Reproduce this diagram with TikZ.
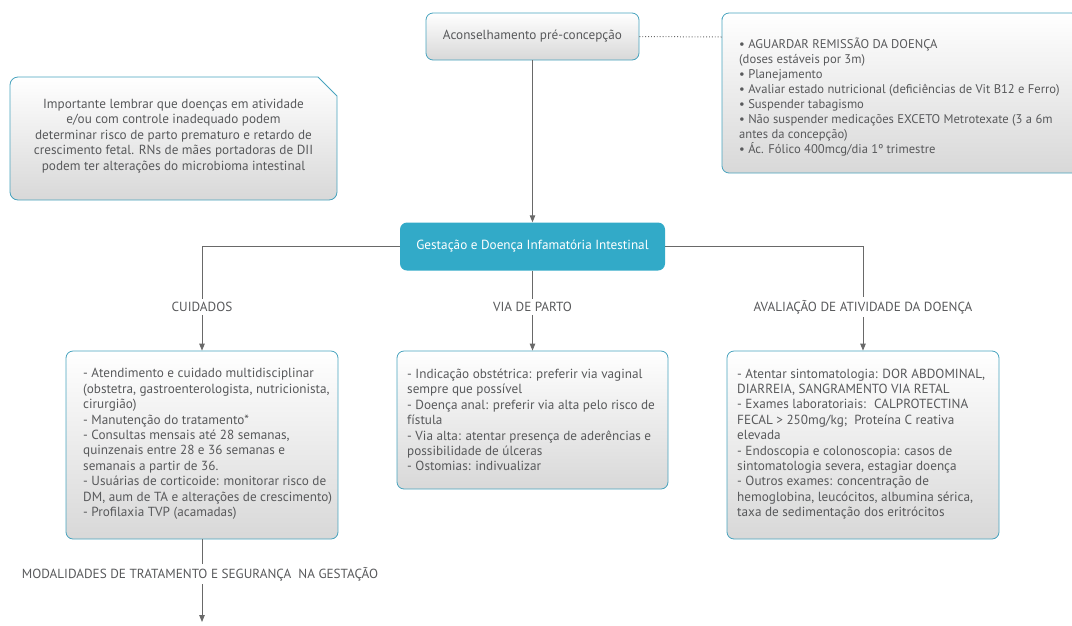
\documentclass[tikz,border=0pt]{standalone}
\usepackage{fontspec}
\setmainfont{PT Sans}
\usetikzlibrary{arrows.meta}
\definecolor{txt}{RGB}{88,89,91}
\definecolor{edgec}{RGB}{72,163,190}
\definecolor{tealc}{RGB}{50,170,200}
\definecolor{linec}{RGB}{105,105,105}
\definecolor{boxbot}{RGB}{216,216,216}
\begin{document}
\begin{tikzpicture}[x=1pt,y=-1pt,
  font=\fontsize{13.2}{15.4}\selectfont,
  box/.style={draw=edgec, line width=0.8pt, rounded corners=7pt, top color=white, bottom color=boxbot, text=txt, inner sep=0pt},
  tbox/.style={text=txt, align=left, anchor=west, inner sep=0pt},
  conn/.style={draw=linec, line width=0.9pt},
  arr/.style={conn, -{Triangle[length=7pt,width=5.5pt]}},
  lbl/.style={text=txt, inner sep=3pt},
]
\useasboundingbox (0,0) rectangle (1072,625);

% top box
\node[box, minimum width=213pt, minimum height=47pt] (pre) at (532.5,36.5) {Aconselhamento pré-concepção};

% right recommendation box (cut off at right edge)
\path[box] (722,25) [rounded corners=7pt] -- (722,173) -- (1090,173) [sharp corners] -- (1090,31) -- (1072,13) [rounded corners=7pt] -- (722,13) -- cycle;
\coordinate (recL) at (722,37);
\node[tbox, font=\fontsize{12.6}{15}\selectfont] (rec) at (739,97) {%
• AGUARDAR REMISSÃO DA DOENÇA\\
(doses estáveis por 3m)\\
• Planejamento\\
• Avaliar estado nutricional (deficiências de Vit B12 e Ferro)\\
• Suspender tabagismo\\
• Não suspender medicações EXCETO Metrotexate (3 a 6m\\
antes da concepção)\\
• Ác. Fólico 400mcg/dia 1º trimestre};

% note box
\path[box] (10,140) [rounded corners=8pt] -- (10,200) -- (337,200) [sharp corners] -- (337,96) -- (318,77) [rounded corners=8pt] -- (10,77) -- cycle;
\node[text=txt, align=center, inner sep=0pt] (note) at (173.5,136) {%
Importante lembrar que doenças em atividade\\
e/ou com controle inadequado podem\\
determinar risco de parto prematuro e retardo de\\
crescimento fetal. RNs de mães portadoras de DII\\
podem ter alterações do microbioma intestinal};

% central node
\node[fill=tealc, rounded corners=7pt, text=white, minimum width=265pt, minimum height=48pt, inner sep=0pt] (gdi) at (532.5,246.5) {Gestação e Doença Infamatória Intestinal};

% labels
\node[lbl] (lc) at (202,307) {CUIDADOS};
\node[lbl] (lv) at (532.5,307) {VIA DE PARTO};
\node[lbl] (la) at (863,307) {AVALIAÇÃO DE ATIVIDADE DA DOENÇA};

% bottom boxes
\node[box, minimum width=272pt, minimum height=188pt] (bc) at (202,445) {};
\node[tbox] (bct) at (83,444) {%
- Atendimento e cuidado multidisciplinar\\
(obstetra, gastroenterologista, nutricionista,\\
cirurgião)\\
- Manutenção do tratamento*\\
- Consultas mensais até 28 semanas,\\
quinzenais entre 28 e 36 semanas e\\
semanais a partir de 36.\\
- Usuárias de corticoide: monitorar risco de\\
DM, aum de TA e alterações de crescimento)\\
- Profilaxia TVP (acamadas)};

\node[box, minimum width=271pt, minimum height=138pt] (bv) at (532.5,420) {};
\node[tbox] (bvt) at (407,420) {%
- Indicação obstétrica: preferir via vaginal\\
sempre que possível\\
- Doença anal: preferir via alta pelo risco de\\
fístula\\
- Via alta: atentar presença de aderências e\\
possibilidade de úlceras\\
- Ostomias: indivualizar};

\node[box, minimum width=272pt, minimum height=188pt] (ba) at (863,445) {};
\node[tbox] (bat) at (737,444) {%
- Atentar sintomatologia: DOR ABDOMINAL,\\
DIARREIA, SANGRAMENTO VIA RETAL\\
- Exames laboratoriais:~ CALPROTECTINA\\
FECAL > 250mg/kg;~ Proteína C reativa\\
elevada\\
- Endoscopia e colonoscopia: casos de\\
sintomatologia severa, estagiar doença\\
- Outros exames: concentração de\\
hemoglobina, leucócitos, albumina sérica,\\
taxa de sedimentação dos eritrócitos};

\node[lbl] (lm) at (200,574) {MODALIDADES DE TRATAMENTO E SEGURANÇA~ NA GESTAÇÃO};
\coordinate (endm) at (202,622);

% connectors
\draw[conn, dotted, line width=1pt] (pre.east) -- (recL);
\draw[arr] (pre.south) -- (gdi.north);
\draw[conn] (gdi.west) -| (lc.north);
\draw[arr] (lc.south) -- (bc.north);
\draw[conn] (gdi.south) -- (lv.north);
\draw[arr] (lv.south) -- (bv.north);
\draw[conn] (gdi.east) -| (la.north);
\draw[arr] (la.south) -- (ba.north);
\draw[conn] (bc.south) -- (bc.south |- lm.north);
\draw[arr] (bc.south |- lm.south) -- (endm);
\end{tikzpicture}
\end{document}
